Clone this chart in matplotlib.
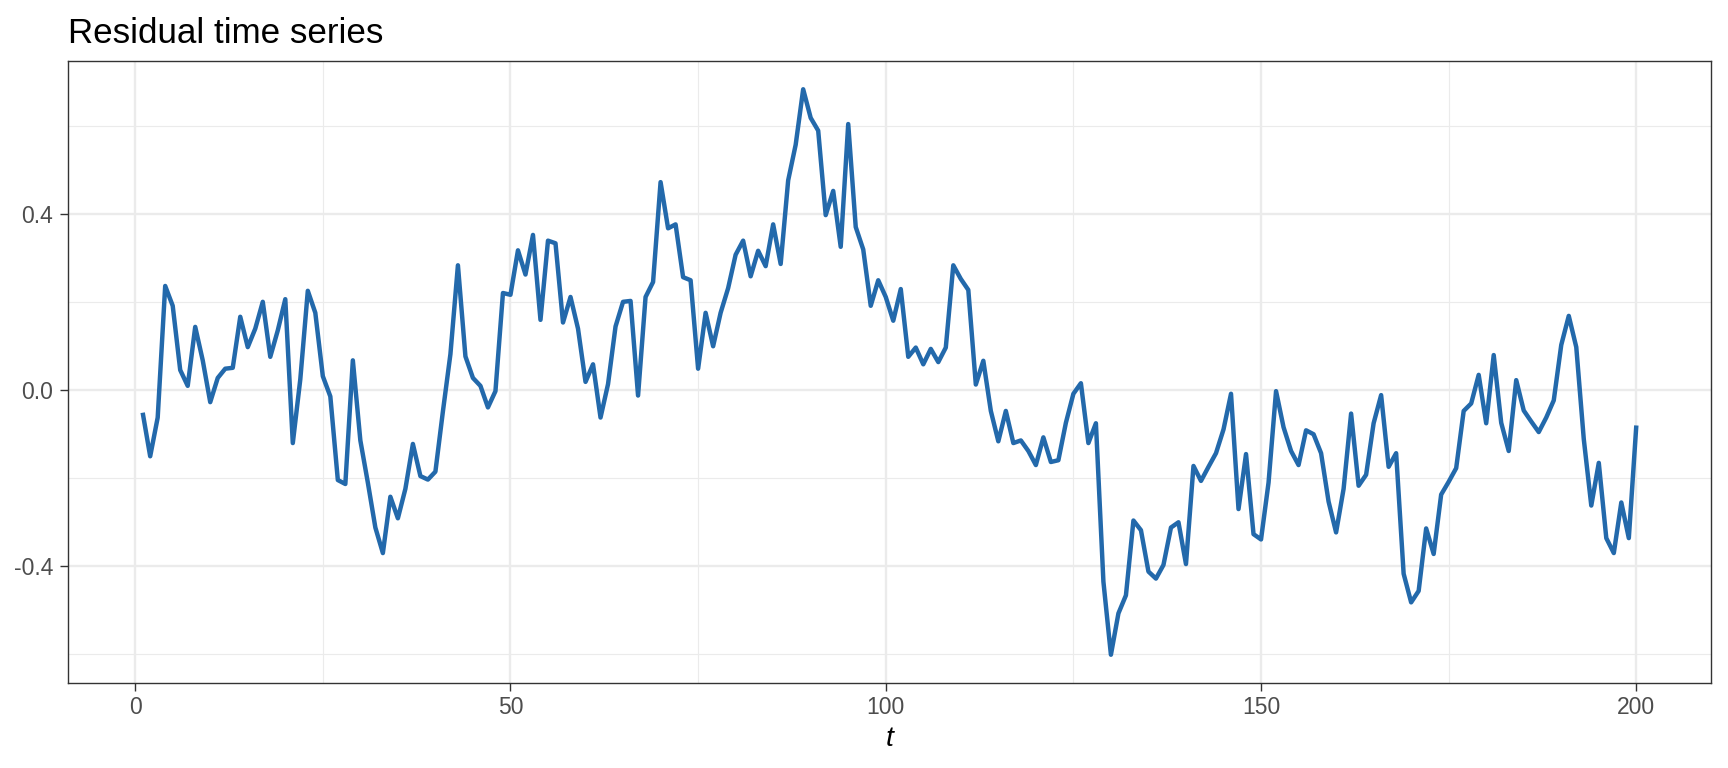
import matplotlib
matplotlib.use("Agg")
import matplotlib.pyplot as plt
from matplotlib.ticker import FixedLocator, FuncFormatter

plt.rcParams['font.family'] = ['Liberation Sans', 'DejaVu Sans']

t = list(range(1, 201))
residual = [
    -0.052, -0.151, -0.063, 0.236, 0.191, 0.045, 0.009, 0.143, 0.067, -0.028,
    0.027, 0.048, 0.050, 0.166, 0.097, 0.139, 0.200, 0.075, 0.135, 0.206,
    -0.121, 0.024, 0.225, 0.175, 0.031, -0.015, -0.205, -0.214, 0.067, -0.115,
    -0.211, -0.313, -0.371, -0.243, -0.292, -0.225, -0.123, -0.196, -0.204, -0.186,
    -0.049, 0.081, 0.283, 0.076, 0.027, 0.009, -0.040, -0.003, 0.220, 0.216,
    0.317, 0.262, 0.352, 0.159, 0.339, 0.333, 0.153, 0.211, 0.139, 0.018,
    0.058, -0.063, 0.013, 0.144, 0.200, 0.202, -0.013, 0.211, 0.245, 0.472,
    0.367, 0.376, 0.256, 0.249, 0.048, 0.175, 0.099, 0.175, 0.231, 0.307,
    0.339, 0.258, 0.316, 0.281, 0.376, 0.286, 0.476, 0.557, 0.683, 0.618,
    0.589, 0.397, 0.452, 0.325, 0.604, 0.370, 0.319, 0.191, 0.249, 0.211,
    0.157, 0.229, 0.075, 0.096, 0.058, 0.093, 0.063, 0.096, 0.283, 0.252,
    0.227, 0.012, 0.066, -0.048, -0.117, -0.048, -0.121, -0.115, -0.139, -0.171,
    -0.108, -0.164, -0.160, -0.075, -0.009, 0.015, -0.121, -0.076, -0.436, -0.602,
    -0.508, -0.467, -0.297, -0.319, -0.413, -0.429, -0.398, -0.313, -0.301, -0.396,
    -0.173, -0.207, -0.175, -0.144, -0.090, -0.009, -0.271, -0.146, -0.328, -0.340,
    -0.211, -0.003, -0.085, -0.139, -0.171, -0.092, -0.101, -0.144, -0.254, -0.324,
    -0.225, -0.054, -0.218, -0.193, -0.076, -0.012, -0.175, -0.144, -0.418, -0.483,
    -0.457, -0.315, -0.373, -0.238, -0.209, -0.178, -0.048, -0.031, 0.034, -0.076,
    0.079, -0.075, -0.139, 0.022, -0.047, -0.072, -0.096, -0.063, -0.024, 0.102,
    0.168, 0.097, -0.112, -0.263, -0.166, -0.337, -0.371, -0.256, -0.337, -0.081,
]

x_major = [0, 50, 100, 150, 200]
x_minor = [25, 75, 125, 175]
y_major = [-0.4, 0.0, 0.4]
y_minor = [-0.6, -0.2, 0.2, 0.6]

W, H = 1728, 768
fig = plt.figure(figsize=(W / 100, H / 100), dpi=100)
L, R, T, B = 68, 1711, 61, 683
ax = fig.add_axes([L / W, 1 - B / H, (R - L) / W, (B - T) / H])

ax.plot(t, residual, color='#2369AB', lw=3.2, solid_joinstyle='round',
        solid_capstyle='butt', zorder=3)

xr = max(t) - min(t)
ax.set_xlim(min(t) - 0.05 * xr, max(t) + 0.05 * xr)
yr = max(residual) - min(residual)
ax.set_ylim(min(residual) - 0.05 * yr, max(residual) + 0.05 * yr)

ax.xaxis.set_major_locator(FixedLocator(x_major))
ax.xaxis.set_minor_locator(FixedLocator(x_minor))
ax.yaxis.set_major_locator(FixedLocator(y_major))
ax.yaxis.set_minor_locator(FixedLocator(y_minor))
ax.yaxis.set_major_formatter(FuncFormatter(lambda v, p: f"{v:.1f}"))

ax.grid(which='major', color='#EBEBEB', lw=1.7, zorder=0)
ax.grid(which='minor', color='#EBEBEB', lw=0.85, zorder=0)
ax.set_axisbelow(True)

for s in ax.spines.values():
    s.set_color('#333333')
    s.set_linewidth(1.0)

ax.tick_params(which='major', length=5.8, width=1.0, color='#333333',
               labelsize=16.5, labelcolor='#4D4D4D')
ax.tick_params(axis='x', pad=3.5)
ax.tick_params(axis='y', pad=5)
ax.tick_params(which='minor', length=0)

ax.set_xlabel('t', fontsize=20.5, style='italic', labelpad=5)
ax.set_title('Residual time series', loc='left', fontsize=25.2, pad=13)

fig.savefig('out.png', dpi=100, facecolor='white')
